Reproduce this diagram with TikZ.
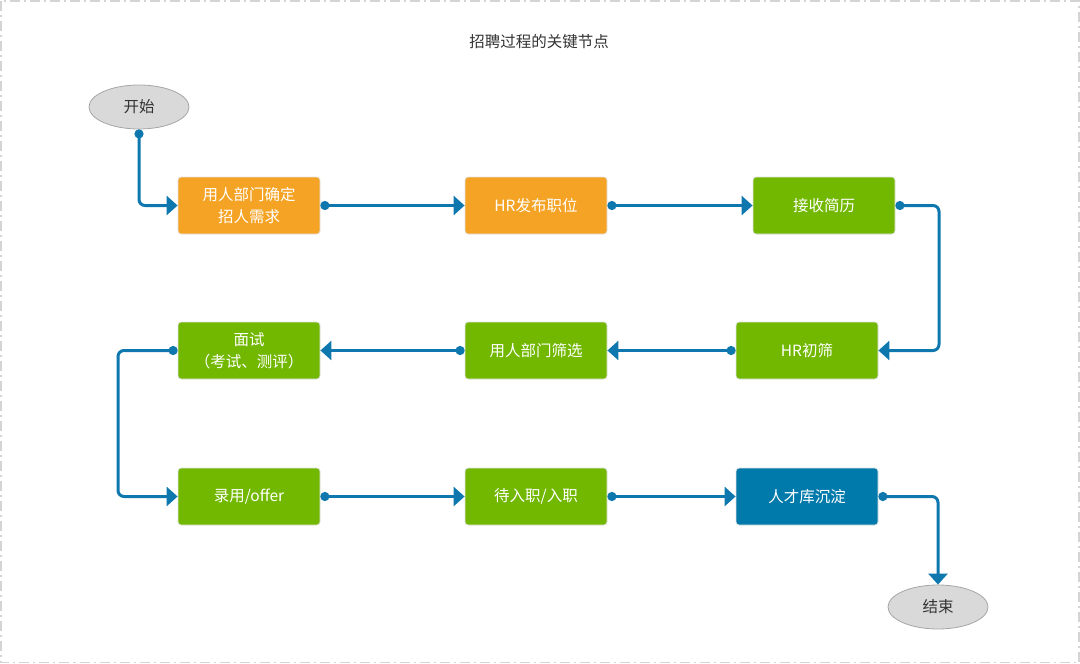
\documentclass[tikz,border=0pt]{standalone}
\usepackage{fontspec}
\setmainfont{Noto Sans CJK SC}
\usetikzlibrary{arrows.meta,shapes.geometric}
\definecolor{orangebox}{HTML}{F5A324}
\definecolor{greenbox}{HTML}{72B800}
\definecolor{bluebox}{HTML}{0079AB}
\definecolor{conncol}{HTML}{0E78AE}
\definecolor{ellfill}{HTML}{D9D9D9}
\definecolor{ellline}{HTML}{A6A6A6}
\definecolor{txtdark}{HTML}{333333}
\definecolor{framecol}{HTML}{D4D4D4}
\definecolor{boxline}{HTML}{E3E3E3}
\tikzset{
  x=1pt,y=-1pt,
  every node/.style={font=\fontsize{15.5}{22}\selectfont},
  stepbox/.style={rectangle,rounded corners=3pt,minimum width=142pt,minimum height=57pt,inner sep=0pt,align=center,text=white,draw=boxline,line width=0.8pt},
  obox/.style={stepbox,fill=orangebox},
  gbox/.style={stepbox,fill=greenbox},
  bbox/.style={stepbox,fill=bluebox},
  term/.style={ellipse,minimum width=100pt,minimum height=44pt,inner sep=0pt,fill=ellfill,draw=ellline,line width=0.8pt,text=txtdark},
  conn/.style={draw=conncol,line width=3pt,rounded corners=6pt,{Circle[length=9pt,width=9pt]}-{Triangle[length=11pt,width=19pt]}},
}
\begin{document}
\begin{tikzpicture}
\useasboundingbox (0,0) rectangle (1080,664);
\draw[framecol,line width=1.3pt,dash pattern=on 10pt off 4pt on 2pt off 4pt] (1,1) rectangle (1079,662.5);
\node[text=txtdark] (title) at (539,42) {招聘过程的关键节点};
\node[term] (start) at (139,107) {开始};
\node[obox] (b1) at (249,205.5) {用人部门确定\\招人需求};
\node[obox] (b2) at (536,205.5) {HR发布职位};
\node[gbox] (b3) at (824,205.5) {接收简历};
\node[gbox] (b4) at (807,350.5) {HR初筛};
\node[gbox] (b5) at (536,350.5) {用人部门筛选};
\node[gbox] (b6) at (249,350.5) {面试\\（考试、测评）};
\node[gbox] (b7) at (249,496.5) {录用/offer};
\node[gbox] (b8) at (536,496.5) {待入职/入职};
\node[bbox] (b9) at (807,496.5) {人才库沉淀};
\node[term] (end) at (938,607) {结束};
\coordinate (c1) at (939,205.5);
\coordinate (c2) at (118,350.5);
\draw[conn] (start.south) |- (b1.west);
\draw[conn] (b1.east) -- (b2.west);
\draw[conn] (b2.east) -- (b3.west);
\draw[conn] (b3.east) -- (c1) |- (b4.east);
\draw[conn] (b4.west) -- (b5.east);
\draw[conn] (b5.west) -- (b6.east);
\draw[conn] (b6.west) -- (c2) |- (b7.west);
\draw[conn] (b7.east) -- (b8.west);
\draw[conn] (b8.east) -- (b9.west);
\draw[conn] (b9.east) -| (end.north);
\end{tikzpicture}
\end{document}
